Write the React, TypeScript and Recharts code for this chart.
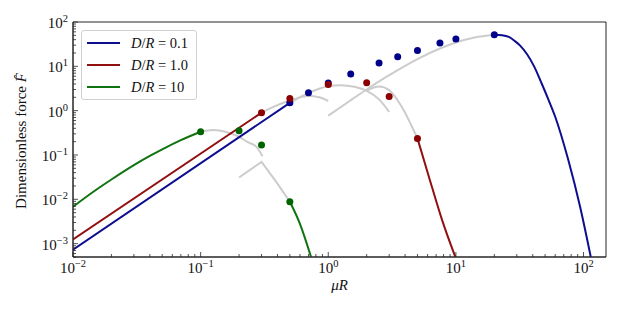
import React from 'react';
import { ComposedChart, Line, Scatter, XAxis, YAxis, ReferenceArea } from 'recharts';

const FONT = '"Liberation Serif", "Times New Roman", serif';
const AXIS = '#262626';
const BLUE = '#0d0d8f';
const RED = '#920f0f';
const GREEN = '#0f730f';
const GREY = '#cccccc';

// axis set-up (log-log)
const X_DOMAIN = [0.01, 150];
const Y_DOMAIN = [0.0005, 100];
const X_DECADES = [0.01, 0.1, 1, 10, 100];
const Y_DECADES = [0.001, 0.01, 0.1, 1, 10, 100];

// coloured asymptotes, D/R = 0.1
const blueSmall = [
  { x: 0.01, y: 0.00073 },
  { x: 0.5, y: 1.5 },
];
const blueLarge = [
  { x: 20, y: 51.7 },
  { x: 23, y: 50.5 },
  { x: 26, y: 46 },
  { x: 29, y: 37 },
  { x: 32, y: 29 },
  { x: 36, y: 19 },
  { x: 41, y: 10 },
  { x: 47, y: 4.1 },
  { x: 53, y: 1.8 },
  { x: 60, y: 0.73 },
  { x: 76, y: 0.077 },
  { x: 94, y: 0.0068 },
  { x: 114, y: 0.0005 },
];

// D/R = 1.0
const redSmall = [
  { x: 0.01, y: 0.00125 },
  { x: 0.3, y: 0.9 },
];
const redLarge = [
  { x: 5, y: 0.237 },
  { x: 6.15, y: 0.032 },
  { x: 7.8, y: 0.0034 },
  { x: 9.9, y: 0.0005 },
];

// D/R = 10
const greenSmall = [
  { x: 0.01, y: 0.0068 },
  { x: 0.015, y: 0.016 },
  { x: 0.02, y: 0.028 },
  { x: 0.03, y: 0.059 },
  { x: 0.04, y: 0.095 },
  { x: 0.05, y: 0.134 },
  { x: 0.07, y: 0.216 },
  { x: 0.1, y: 0.334 },
];
const greenLarge = [
  { x: 0.5, y: 0.0088 },
  { x: 0.6, y: 0.0028 },
  { x: 0.733, y: 0.0005 },
];

// grey intermediate curves
const greyGreenArc = [
  { x: 0.1, y: 0.334 },
  { x: 0.125, y: 0.365 },
  { x: 0.17, y: 0.31 },
  { x: 0.2, y: 0.258 },
  { x: 0.23, y: 0.2 },
  { x: 0.274, y: 0.152 },
  { x: 0.305, y: 0.094 },
];
const greyGreenKink = [
  { x: 0.2, y: 0.031 },
  { x: 0.3, y: 0.07 },
  { x: 0.39, y: 0.025 },
  { x: 0.5, y: 0.0088 },
];
const greyRedArc = [
  { x: 0.3, y: 0.9 },
  { x: 0.35, y: 1.13 },
  { x: 0.5, y: 1.7 },
  { x: 0.7, y: 2.15 },
  { x: 0.85, y: 2.0 },
  { x: 1.0, y: 1.65 },
];
const greyBlueArc = [
  { x: 0.5, y: 1.5 },
  { x: 0.7, y: 2.5 },
  { x: 1.0, y: 3.55 },
  { x: 1.25, y: 3.75 },
  { x: 1.6, y: 3.45 },
  { x: 2.0, y: 2.8 },
  { x: 2.5, y: 1.8 },
  { x: 3.0, y: 0.94 },
];
const greyLongArc = [
  { x: 1.0, y: 0.77 },
  { x: 1.5, y: 1.72 },
  { x: 2, y: 3.0 },
  { x: 3, y: 6.3 },
  { x: 5, y: 14.6 },
  { x: 7.5, y: 25.2 },
  { x: 10, y: 34.4 },
  { x: 14, y: 44.8 },
  { x: 20, y: 51.7 },
];
const greyRedArc2 = [
  { x: 2.0, y: 2.8 },
  { x: 2.5, y: 3.5 },
  { x: 3.0, y: 2.9 },
  { x: 3.5, y: 1.7 },
  { x: 4.0, y: 0.9 },
  { x: 4.5, y: 0.45 },
  { x: 5.0, y: 0.237 },
];

// simulation points
const blueDots = [
  { x: 0.5, y: 1.5 },
  { x: 0.7, y: 2.54 },
  { x: 1.0, y: 4.2 },
  { x: 1.5, y: 6.7 },
  { x: 2.5, y: 11.9 },
  { x: 3.5, y: 16.4 },
  { x: 5, y: 22.9 },
  { x: 7.5, y: 33.5 },
  { x: 10, y: 41.3 },
  { x: 20, y: 51.7 },
];
const redDots = [
  { x: 0.3, y: 0.9 },
  { x: 0.5, y: 1.89 },
  { x: 1.0, y: 3.9 },
  { x: 2.0, y: 4.27 },
  { x: 3.0, y: 2.1 },
  { x: 5.0, y: 0.237 },
];
const greenDots = [
  { x: 0.1, y: 0.334 },
  { x: 0.2, y: 0.35 },
  { x: 0.3, y: 0.167 },
  { x: 0.5, y: 0.0088 },
];

const legendItems = [
  { value: '0.1', color: BLUE },
  { value: '1.0', color: RED },
  { value: '10', color: GREEN },
];

function logTicks(decades: number[], lo: number, hi: number) {
  const out: number[] = [];
  for (const d of [decades[0] / 10, ...decades]) {
    for (let k = 1; k <= 9; k++) {
      const v = parseFloat((k * d).toPrecision(6));
      if (v >= lo && v <= hi) out.push(v);
    }
  }
  return out;
}

const xTicks = logTicks(X_DECADES, X_DOMAIN[0], X_DOMAIN[1]);
const yTicks = logTicks(Y_DECADES, Y_DOMAIN[0], Y_DOMAIN[1]);

const expLabel = (v: number) => {
  const e = Math.round(Math.log10(v));
  return e < 0 ? '\u2212' + Math.abs(e) : String(e);
};

const XTick = ({ x, y, payload }: any) => {
  const major = X_DECADES.includes(payload.value);
  return (
    <g>
      <line x1={x} x2={x} y1={y} y2={y - (major ? 5 : 3)} stroke={AXIS} strokeWidth={0.8} />
      {major && (
        <text x={x} y={y + 16} textAnchor="middle" fontFamily={FONT} fontSize={15} fill="#111">
          10<tspan dy={-6} fontSize={10.5}>{expLabel(payload.value)}</tspan>
        </text>
      )}
    </g>
  );
};

const YTick = ({ x, y, payload }: any) => {
  const major = Y_DECADES.includes(payload.value);
  return (
    <g>
      <line x1={x} x2={x + (major ? 5 : 3)} y1={y} y2={y} stroke={AXIS} strokeWidth={0.8} />
      {major && (
        <text x={x - 5} y={y + 6} textAnchor="end" fontFamily={FONT} fontSize={15} fill="#111">
          10<tspan dy={-6} fontSize={10.5}>{expLabel(payload.value)}</tspan>
        </text>
      )}
    </g>
  );
};

const dot = (color: string) => (props: any) => (
  <circle cx={props.cx} cy={props.cy} r={3.5} fill={color} />
);

function LegendBox() {
  return (
    <div
      style={{
        position: 'absolute',
        left: 81,
        top: 30,
        width: 116,
        height: 70,
        boxSizing: 'border-box',
        border: '1px solid #d0d0d0',
        borderRadius: 3,
        background: 'rgba(255,255,255,0.85)',
      }}
    >
      <svg width={116} height={70}>
        {legendItems.map((item, i) => {
          const cy = 12 + i * 22;
          return (
            <g key={item.value}>
              <line x1={5} x2={38} y1={cy} y2={cy} stroke={item.color} strokeWidth={2} />
              <text x={49} y={cy + 5} fontFamily={FONT} fontSize={14.5} fill="#111">
                <tspan fontStyle="italic">D</tspan>/<tspan fontStyle="italic">R</tspan>
                {' = ' + item.value}
              </text>
            </g>
          );
        })}
      </svg>
    </div>
  );
}

export default function App() {
  const curve = (data: any[], color: string, width = 2, type: any = 'monotone') => (
    <Line
      data={data}
      dataKey="y"
      type={type}
      stroke={color}
      strokeWidth={width}
      dot={false}
      activeDot={false}
      isAnimationActive={false}
      legendType="none"
    />
  );

  return (
    <div style={{ position: 'absolute', left: 0, top: 0, width: 623, height: 312, background: '#fff' }}>
      <ComposedChart width={623} height={312} margin={{ top: 22, right: 17, bottom: 0, left: 0 }}>
        <XAxis
          dataKey="x"
          type="number"
          scale="log"
          domain={X_DOMAIN}
          allowDataOverflow
          ticks={xTicks}
          interval={0}
          tickSize={0}
          tickMargin={0}
          tick={<XTick />}
          height={55}
          axisLine={{ stroke: AXIS }}
          label={{
            content: () => (
              <text x={339.5} y={290} textAnchor="middle" fontFamily={FONT} fontSize={15} fontStyle="italic" fill="#111">
                μR
              </text>
            ),
          }}
        />
        <YAxis
          dataKey="y"
          type="number"
          scale="log"
          domain={Y_DOMAIN}
          allowDataOverflow
          ticks={yTicks}
          interval={0}
          tickSize={0}
          tickMargin={0}
          tick={<YTick />}
          width={73}
          axisLine={{ stroke: AXIS }}
          label={{
            content: () => (
              <text
                x={0}
                y={0}
                transform="translate(26,141) rotate(-90)"
                textAnchor="middle"
                fontFamily={FONT}
                fontSize={15}
                fill="#111"
              >
                Dimensionless force <tspan fontStyle="italic">F&#770;</tspan>
              </text>
            ),
          }}
        />
        <ReferenceArea
          x1={X_DOMAIN[0]}
          x2={X_DOMAIN[1]}
          y1={Y_DOMAIN[0]}
          y2={Y_DOMAIN[1]}
          fill="none"
          stroke={AXIS}
          strokeWidth={1}
          ifOverflow="visible"
        />

        {curve(greyGreenArc, GREY)}
        {curve(greyGreenKink, GREY, 2, 'linear')}
        {curve(greyRedArc, GREY)}
        {curve(greyBlueArc, GREY)}
        {curve(greyLongArc, GREY)}
        {curve(greyRedArc2, GREY)}

        {curve(blueSmall, BLUE)}
        {curve(blueLarge, BLUE)}
        {curve(redSmall, RED)}
        {curve(redLarge, RED)}
        {curve(greenSmall, GREEN)}
        {curve(greenLarge, GREEN)}

        <Scatter data={blueDots} shape={dot('#00008b')} isAnimationActive={false} legendType="none" />
        <Scatter data={redDots} shape={dot('#8b0000')} isAnimationActive={false} legendType="none" />
        <Scatter data={greenDots} shape={dot('#006400')} isAnimationActive={false} legendType="none" />
      </ComposedChart>
      <LegendBox />
    </div>
  );
}
